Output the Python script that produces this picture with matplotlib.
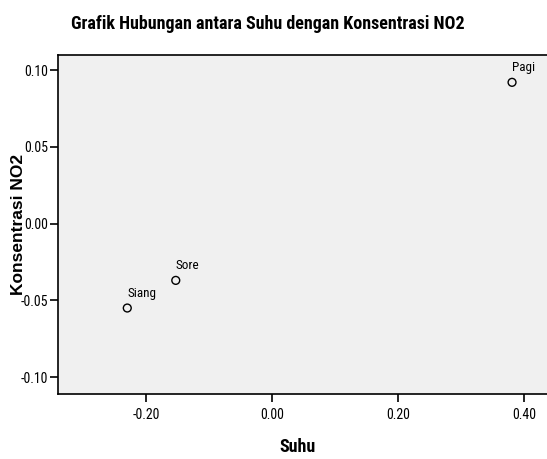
import matplotlib
matplotlib.use('Agg')
import matplotlib.pyplot as plt
from matplotlib import font_manager

# Data
labels = ['Pagi', 'Sore', 'Siang']
suhu = [0.381, -0.153, -0.230]
no2 = [0.092, -0.037, -0.055]

xticks = [-0.20, 0.00, 0.20, 0.40]
yticks = [-0.10, -0.05, 0.00, 0.05, 0.10]

# pick a narrow face (the original looks like Arial Narrow)
names = {f.name for f in font_manager.fontManager.ttflist}
narrow = next((n for n in ['Liberation Sans Narrow', 'Roboto Condensed', 'Archivo Narrow',
                           'Barlow Semi Condensed'] if n in names), 'DejaVu Sans')
narrow = [narrow, 'DejaVu Sans']

fig = plt.figure(figsize=(5.47, 4.59), dpi=100)
ax = fig.add_axes([58 / 547, 65 / 459, 1 - 58 / 547, 339 / 459])
ax.set_facecolor('#f0f0f0')

ax.scatter(suhu, no2, s=32, facecolors='none', edgecolors='black', linewidths=1.0, zorder=3)
for name, x, y in zip(labels, suhu, no2):
    ax.annotate(name, (x, y), xytext=(0, 6), textcoords='offset points',
                ha='left', va='bottom', fontsize=9.5, family=narrow)

ax.set_xlim(-0.340, 0.4365)
ax.set_ylim(-0.111, 0.1098)
ax.set_xticks(xticks)
ax.set_yticks(yticks)
ax.set_xticklabels([f'{t:.2f}' for t in xticks], family=narrow, fontsize=10)
ax.set_yticklabels([f'{t:.2f}' for t in yticks], family=narrow, fontsize=10)
ax.tick_params(axis='both', direction='out', length=6, width=1.2, colors='black')
ax.tick_params(axis='x', pad=4)
ax.tick_params(axis='y', pad=1)

for side in ['left', 'bottom', 'top']:
    ax.spines[side].set_linewidth(1.2)
ax.spines['right'].set_visible(False)

ax.set_xlabel('Suhu', fontsize=13, fontweight='bold', family=narrow, va='center')
ax.xaxis.set_label_coords(0.49, -0.155)
ax.set_ylabel('Konsentrasi NO2', fontsize=12.5, fontweight='bold', family='Liberation Sans', va='center')
ax.yaxis.set_label_coords(-0.08, 0.5)

fig.text(268 / 547, 1 - 24 / 459, 'Grafik Hubungan antara Suhu dengan Konsentrasi NO2',
         ha='center', va='center', fontsize=13, fontweight='bold', family=narrow)

fig.savefig('out.png', dpi=100)
